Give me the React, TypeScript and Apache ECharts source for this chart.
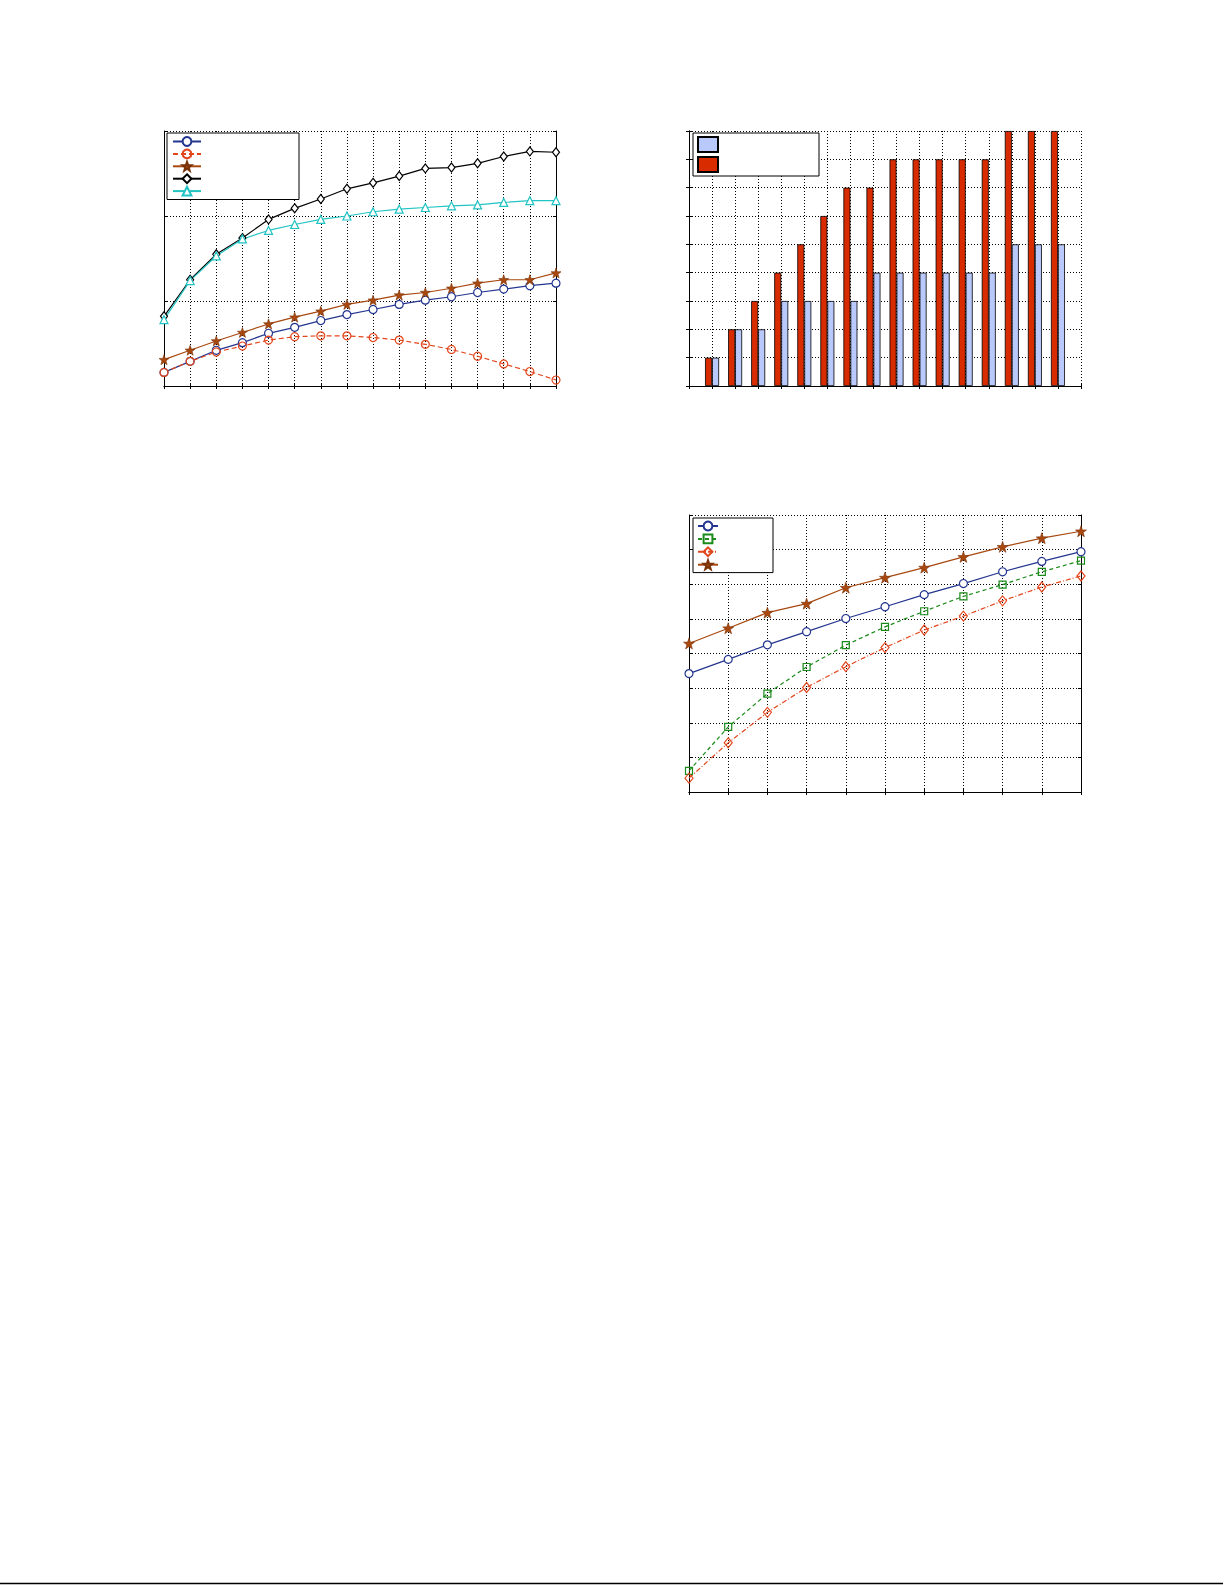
import React, { useRef, useEffect } from 'react';
import * as echarts from 'echarts';

// top-left line chart
const leftSteps = ['1', '2', '3', '4', '5', '6', '7', '8', '9', '10', '11', '12', '13', '14', '15', '16'];
const leftBlue = [0.16, 0.29, 0.42, 0.51, 0.62, 0.69, 0.77, 0.84, 0.9, 0.96, 1.01, 1.05, 1.1, 1.14, 1.18, 1.21];
const leftRed = [0.16, 0.29, 0.4, 0.47, 0.54, 0.58, 0.59, 0.59, 0.57, 0.54, 0.49, 0.43, 0.35, 0.26, 0.17, 0.07];
const leftStar = [0.31, 0.42, 0.53, 0.63, 0.73, 0.81, 0.88, 0.96, 1.01, 1.07, 1.1, 1.15, 1.21, 1.25, 1.25, 1.33];
const leftBlack = [0.82, 1.25, 1.55, 1.74, 1.96, 2.09, 2.2, 2.32, 2.39, 2.47, 2.56, 2.57, 2.62, 2.7, 2.76, 2.75];
const leftCyan = [0.78, 1.24, 1.53, 1.73, 1.83, 1.9, 1.96, 2.0, 2.05, 2.08, 2.1, 2.12, 2.13, 2.16, 2.18, 2.18];

// top-right bar chart
const barSlots = [1, 2, 3, 4, 5, 6, 7, 8, 9, 10, 11, 12, 13, 14, 15, 16];
const barLight = [1, 2, 2, 3, 3, 3, 3, 4, 4, 4, 4, 4, 4, 5, 5, 5];
const barDark = [1, 2, 3, 4, 5, 6, 7, 7, 8, 8, 8, 8, 8, 9, 9, 9];

// bottom-right line chart
const lowSteps = ['1', '2', '3', '4', '5', '6', '7', '8', '9', '10', '11'];
const lowBlue = [3.42, 3.83, 4.25, 4.63, 5.01, 5.35, 5.7, 6.02, 6.36, 6.66, 6.94];
const lowGreen = [0.61, 1.88, 2.84, 3.61, 4.24, 4.77, 5.22, 5.65, 5.99, 6.36, 6.68];
const lowOrange = [0.4, 1.42, 2.3, 3.02, 3.62, 4.17, 4.68, 5.08, 5.52, 5.92, 6.24];
const lowStar = [4.29, 4.73, 5.18, 5.44, 5.9, 6.19, 6.48, 6.79, 7.08, 7.33, 7.53];

const STAR = 'path://M0,-10 L2.35,-3.24 L9.51,-3.09 L3.8,1.24 L5.88,8.09 L0,4 L-5.88,8.09 L-3.8,1.24 L-9.51,-3.09 L-2.35,-3.24 Z';

const NAVY = '#23358f';
const RED = '#e2461c';
const BROWN = '#a8480f';
const CYAN = '#22c3c3';
const GREEN = '#1b8a1b';

const grids = [
    { left: 164, top: 131, width: 392, height: 255 },
    { left: 689, top: 131, width: 392, height: 255 },
    { left: 689, top: 515, width: 392, height: 277 },
];

const dotted = { type: [1, 2] as number[], color: '#000', width: 1 };

const boxAxis = (gridIndex: number, position: string, extra: any) => ({
    gridIndex,
    position,
    axisLine: { show: true, lineStyle: { color: '#000', width: 1 } },
    axisTick: { show: true, inside: true, length: 3, lineStyle: { color: '#000' } },
    axisLabel: { show: false },
    splitLine: { show: false },
    ...extra,
});

const lineSeries = (
    name: string,
    data: number[],
    axis: number,
    color: string,
    symbol: string,
    size: number | number[],
    dash: any,
    fill: string
) => ({
    name,
    type: 'line',
    xAxisIndex: axis,
    yAxisIndex: axis,
    data,
    symbol,
    symbolSize: size,
    showAllSymbol: true,
    clip: false,
    lineStyle: { color, width: 1.2, type: dash },
    itemStyle: { color: fill, borderColor: color, borderWidth: 1.2 },
});

const legendBox = {
    orient: 'vertical',
    backgroundColor: '#fff',
    borderColor: '#000',
    borderWidth: 1,
    borderRadius: 0,
    formatter: () => '',
    selectedMode: false,
};

const App: React.FC = () => {
    const chartRef = useRef<HTMLDivElement>(null);

    useEffect(() => {
        if (!chartRef.current) return;
        const chart = echarts.init(chartRef.current, null, { renderer: 'svg' });

        const option: any = {
            animation: false,
            backgroundColor: '#fff',
            grid: grids.map(g => ({ ...g, show: false, containLabel: false })),
            xAxis: [
                boxAxis(0, 'bottom', {
                    type: 'category', data: leftSteps, boundaryGap: false,
                    splitLine: { show: true, lineStyle: dotted },
                }),
                boxAxis(0, 'top', { type: 'category', data: leftSteps, boundaryGap: false }),
                boxAxis(1, 'bottom', {
                    type: 'value', min: 0, max: 17, interval: 1,
                    splitLine: { show: true, lineStyle: dotted },
                }),
                boxAxis(1, 'top', { type: 'value', min: 0, max: 17, interval: 1 }),
                boxAxis(2, 'bottom', {
                    type: 'category', data: lowSteps, boundaryGap: false,
                    splitLine: { show: true, lineStyle: dotted },
                }),
                boxAxis(2, 'top', { type: 'category', data: lowSteps, boundaryGap: false }),
            ],
            yAxis: [
                boxAxis(0, 'left', {
                    type: 'value', min: 0, max: 3, interval: 1,
                    splitLine: { show: true, lineStyle: dotted },
                }),
                boxAxis(0, 'right', { type: 'value', min: 0, max: 3, interval: 1 }),
                boxAxis(1, 'left', {
                    type: 'value', min: 0, max: 9, interval: 1,
                    splitLine: { show: true, lineStyle: dotted },
                }),
                boxAxis(1, 'right', { type: 'value', min: 0, max: 9, interval: 1 }),
                boxAxis(2, 'left', {
                    type: 'value', min: 0, max: 8, interval: 1,
                    splitLine: { show: true, lineStyle: dotted },
                }),
                boxAxis(2, 'right', { type: 'value', min: 0, max: 8, interval: 1 }),
            ],
            legend: [
                {
                    ...legendBox,
                    data: ['a1', 'a2', 'a3', 'a4', 'a5'],
                    left: 167,
                    top: 133,
                    itemWidth: 28,
                    itemHeight: 11,
                    itemGap: 1.5,
                    padding: [3, 97, 3, 5],
                },
                {
                    ...legendBox,
                    data: ['b2', 'b1'],
                    left: 693,
                    top: 133,
                    itemWidth: 20,
                    itemHeight: 15,
                    itemGap: 3,
                    icon: 'rect',
                    padding: [3, 100, 3, 4],
                },
                {
                    ...legendBox,
                    data: ['c1', 'c2', 'c3', 'c4'],
                    left: 693,
                    top: 518,
                    itemWidth: 20,
                    itemHeight: 11,
                    itemGap: 2,
                    padding: [2.5, 54, 2.5, 4],
                },
            ],
            series: [
                lineSeries('a1', leftBlue, 0, NAVY, 'circle', 8, 'solid', '#fff'),
                lineSeries('a2', leftRed, 0, RED, 'circle', 8, [5, 3], 'transparent'),
                {
                    ...lineSeries('a3', leftStar, 0, BROWN, STAR, 10, 'solid', BROWN),
                    itemStyle: { color: BROWN, borderColor: '#7a3208', borderWidth: 0.6 },
                },
                lineSeries('a4', leftBlack, 0, '#000', 'diamond', [7, 9], 'solid', '#fff'),
                lineSeries('a5', leftCyan, 0, CYAN, 'triangle', 8, 'solid', '#fff'),
                {
                    name: 'b1',
                    type: 'bar',
                    xAxisIndex: 2,
                    yAxisIndex: 2,
                    data: barSlots.map((s, i) => [s, barDark[i]]),
                    barWidth: 7,
                    barGap: '0%',
                    itemStyle: { color: '#d92b00', borderColor: '#000', borderWidth: 0.8 },
                },
                {
                    name: 'b2',
                    type: 'bar',
                    xAxisIndex: 2,
                    yAxisIndex: 2,
                    data: barSlots.map((s, i) => [s, barLight[i]]),
                    barWidth: 7,
                    barGap: '0%',
                    itemStyle: { color: '#b9c9fb', borderColor: '#000', borderWidth: 0.8 },
                },
                lineSeries('c1', lowBlue, 4, NAVY, 'circle', 8, 'solid', '#fff'),
                lineSeries('c2', lowGreen, 4, GREEN, 'rect', 7, [4, 3], 'transparent'),
                lineSeries('c3', lowOrange, 4, RED, 'diamond', [8, 10], [5, 2, 1, 2], 'transparent'),
                {
                    ...lineSeries('c4', lowStar, 4, BROWN, STAR, 11, 'solid', BROWN),
                    itemStyle: { color: BROWN, borderColor: '#7a3208', borderWidth: 0.6 },
                },
            ],
            graphic: [
                {
                    type: 'line',
                    shape: { x1: 0, y1: 1583.5, x2: 1223, y2: 1583.5 },
                    style: { stroke: '#000', lineWidth: 1.6 },
                },
            ],
        };

        chart.setOption(option);

        return () => {
            chart.dispose();
        };
    }, []);

    return (
        <div
            ref={chartRef}
            style={{ position: 'absolute', left: 0, top: 0, width: 1225, height: 1585 }}
        />
    );
};

export default App;
